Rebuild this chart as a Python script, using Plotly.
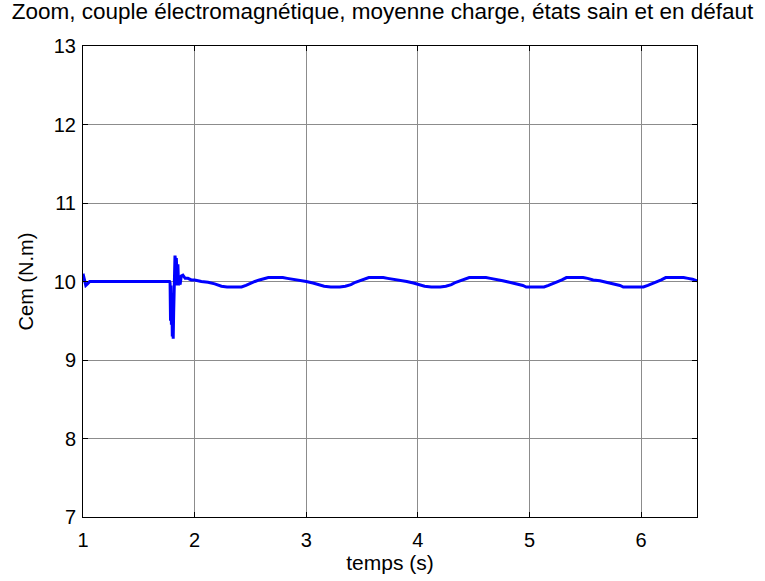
import plotly.graph_objects as go

# Electromagnetic torque (N.m) vs time (s): healthy then faulty state, medium load
t_s = [
    1.000, 1.010, 1.025, 1.040, 1.060, 1.080, 1.300, 1.600, 1.775,
    1.780, 1.784, 1.788, 1.792, 1.796, 1.800, 1.804, 1.808, 1.812, 1.816,
    1.820, 1.824, 1.828, 1.832, 1.836, 1.840, 1.845, 1.850, 1.856, 1.862,
    1.870, 1.880, 1.895, 1.915, 1.940, 1.970, 2.000,
    2.060, 2.120, 2.180, 2.240, 2.290, 2.350, 2.420, 2.460, 2.500, 2.540,
    2.580, 2.620, 2.660, 2.720, 2.790, 2.830, 2.880, 2.940, 3.000, 3.060,
    3.120, 3.160, 3.220, 3.300, 3.350, 3.400, 3.440, 3.480, 3.520, 3.560,
    3.620, 3.690, 3.730, 3.780, 3.840, 3.900, 3.960, 4.020, 4.060, 4.120,
    4.200, 4.250, 4.300, 4.340, 4.380, 4.420, 4.460, 4.520, 4.610, 4.650,
    4.700, 4.760, 4.820, 4.880, 4.940, 4.970, 5.040, 5.130, 5.170, 5.210,
    5.250, 5.290, 5.330, 5.400, 5.480, 5.520, 5.570, 5.630, 5.690, 5.750,
    5.810, 5.840, 5.920, 6.020, 6.060, 6.100, 6.140, 6.180, 6.220, 6.290,
    6.380, 6.420, 6.460, 6.500,
]
cem_nm = [
    10.10, 10.02, 9.95, 9.97, 10.00, 10.00, 10.00, 10.00, 10.00,
    9.98, 9.50, 9.95, 9.45, 9.85, 9.30, 9.75, 9.27, 9.60, 9.95,
    10.00, 10.33, 10.28, 9.98, 10.30, 10.10, 9.95, 10.22, 9.95, 10.02,
    9.96, 10.07, 10.08, 10.04, 10.04, 10.02, 10.02,
    10.00, 9.99, 9.97, 9.94, 9.93, 9.93, 9.93, 9.95, 9.98, 10.00,
    10.02, 10.04, 10.05, 10.05, 10.05, 10.04, 10.03, 10.01, 10.00, 9.98,
    9.96, 9.94, 9.93, 9.93, 9.94, 9.96, 9.99, 10.01, 10.03, 10.05,
    10.05, 10.05, 10.04, 10.03, 10.01, 10.00, 9.98, 9.96, 9.94, 9.93,
    9.93, 9.94, 9.96, 9.99, 10.01, 10.03, 10.05, 10.05, 10.05, 10.04,
    10.03, 10.01, 9.99, 9.97, 9.95, 9.93, 9.93, 9.93, 9.95, 9.97,
    10.00, 10.02, 10.05, 10.05, 10.05, 10.04, 10.02, 10.01, 9.99, 9.97,
    9.95, 9.93, 9.93, 9.93, 9.95, 9.97, 10.00, 10.02, 10.05, 10.05,
    10.05, 10.04, 10.03, 10.01,
]

x_ticks = [1, 2, 3, 4, 5, 6]
y_ticks = [7, 8, 9, 10, 11, 12, 13]

FONT = "Liberation Sans, Arial"

fig = go.Figure(
    go.Scatter(
        x=t_s, y=cem_nm, mode="lines",
        line=dict(color="#0000ff", width=3),
        showlegend=False,
    )
)

axis_common = dict(
    showline=True, linecolor="black", linewidth=1, mirror="allticks",
    ticks="inside", ticklen=5, tickcolor="black", tickwidth=1,
    showgrid=True, gridcolor="#8c8c8c", gridwidth=1, zeroline=False,
    tickfont=dict(family=FONT, size=20, color="black"),
)

fig.update_xaxes(
    range=[1, 6.5], tickvals=x_ticks, ticktext=[str(v) for v in x_ticks],
    ticklabelstandoff=5,
    title=dict(text="temps (s)", standoff=4,
               font=dict(family=FONT, size=21, color="black")),
    **axis_common,
)
fig.update_yaxes(
    range=[7, 13], tickvals=y_ticks, ticktext=[str(v) for v in y_ticks],
    ticklabelstandoff=2,
    title=dict(text="Cem (N.m)", standoff=14,
               font=dict(family=FONT, size=20, color="black")),
    **axis_common,
)

fig.update_layout(
    width=765, height=581,
    margin=dict(l=83, r=68, t=46, b=64),
    paper_bgcolor="white", plot_bgcolor="white",
    title=dict(
        text="Zoom, couple électromagnétique, moyenne charge, états sain et en défaut",
        x=0.5, xref="container", xanchor="center",
        y=1 - 11 / 581, yref="container", yanchor="middle",
        font=dict(family=FONT, size=22.5, color="black"),
    ),
)

fig.write_html("out.html")
